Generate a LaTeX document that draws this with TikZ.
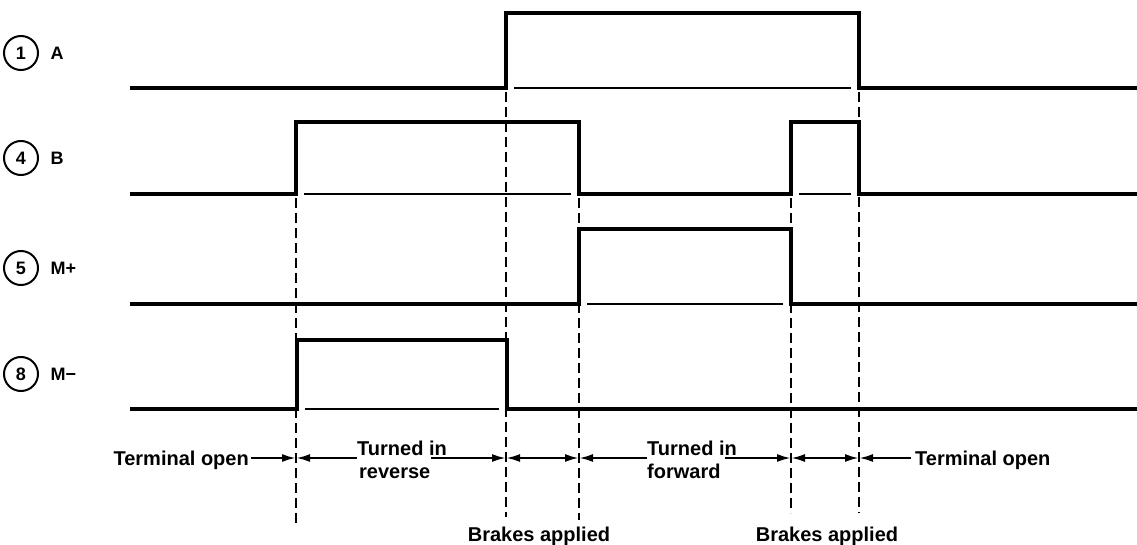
\documentclass[tikz,border=0pt]{standalone}
\usepackage{fontspec}
\setmainfont{Liberation Sans}
\usetikzlibrary{arrows.meta,calc}
\begin{document}
\begin{tikzpicture}[x=1pt,y=-1pt,
  sig/.style={line width=3.4pt,line join=miter},
  base/.style={line width=2.2pt},
  guide/.style={line width=2.4pt,dash pattern=on 10pt off 5pt},
  arr/.style={line width=2.2pt,-{Latex[length=14pt,width=8pt]}},
  darr/.style={line width=2.2pt,{Latex[length=14pt,width=8pt]}-{Latex[length=14pt,width=8pt]}},
  pin/.style={circle,draw,line width=2pt,minimum size=34pt,inner sep=0pt,font=\bfseries\fontsize{18}{18}\selectfont},
  plabel/.style={anchor=west,font=\bfseries\fontsize{18}{18}\selectfont},
  lbl/.style={font=\bfseries\fontsize{20}{23}\selectfont,inner sep=0pt}]
\useasboundingbox (0,0) rectangle (1137,545);

% pin circles and labels
\node[pin] (p1) at (21,53) {1};
\node[plabel] (lA) at (47,53) {A};
\node[pin] (p4) at (21,158) {4};
\node[plabel] (lB) at (47,158) {B};
\node[pin] (p5) at (21,268) {5};
\node[plabel] (lMp) at (47,268) {M+};
\node[pin] (p8) at (21,374) {8};
\node[plabel] (lMm) at (47,374) {M\textminus};

% signals
\draw[sig] (130,88) -- (506,88) -- (506,13) -- (859,13) -- (859,88) -- (1137,88);
\draw[base] (514,88) -- (851,88);
\draw[sig] (130,194) -- (296,194) -- (296,122) -- (579,122) -- (579,194) -- (791,194) -- (791,122) -- (859,122) -- (859,194) -- (1137,194);
\draw[base] (304,194) -- (571,194);
\draw[base] (799,194) -- (851,194);
\draw[sig] (130,304) -- (579,304) -- (579,229) -- (791,229) -- (791,304) -- (1137,304);
\draw[base] (587,304) -- (783,304);
\draw[sig] (130,409) -- (297,409) -- (297,340) -- (507,340) -- (507,409) -- (1137,409);
\draw[base] (305,409) -- (499,409);

% guide coordinates on the arrow row
\coordinate (c1) at (296,458);
\coordinate (c2) at (506,458);
\coordinate (c3) at (579,458);
\coordinate (c4) at (791,458);
\coordinate (c5) at (859,458);

% dashed guide lines
\draw[guide] (296,198) -- (296,525);
\draw[guide] (506,92) -- (506,517);
\draw[guide] (579,198) -- (579,520);
\draw[guide] (791,198) -- (791,513);
\draw[guide] (859,92) -- (859,513);

% texts
\node[lbl,anchor=base east] (to1) at (249,465) {Terminal open};
\node[lbl,anchor=base west] (ti1) at (357,455) {Turned in};
\node[lbl,anchor=base west] (rv) at (359,478) {reverse};
\node[lbl,anchor=base west] (ti2) at (647,455) {Turned in};
\node[lbl,anchor=base west] (fw) at (647,478) {forward};
\node[lbl,anchor=base west] (to2) at (915,465) {Terminal open};
\node[lbl,anchor=base] (ba1) at (539,541) {Brakes applied};
\node[lbl,anchor=base] (ba2) at (827,541) {Brakes applied};

\coordinate (s1) at ([xshift=-16pt]ti1.east);
\coordinate (s2) at ([xshift=-12pt]ti2.east);

% dimension arrows
\draw[arr] ([xshift=2pt]to1.east |- c1) -- (c1);
\draw[arr] (ti1.west |- c1) -- (c1);
\draw[arr] (s1 |- c2) -- (c2);
\draw[darr] (c2) -- (c3);
\draw[arr] (ti2.west |- c3) -- (c3);
\draw[arr] (s2 |- c4) -- (c4);
\draw[darr] (c4) -- (c5);
\draw[arr] ([xshift=-4pt]to2.west |- c5) -- (c5);
\end{tikzpicture}
\end{document}
